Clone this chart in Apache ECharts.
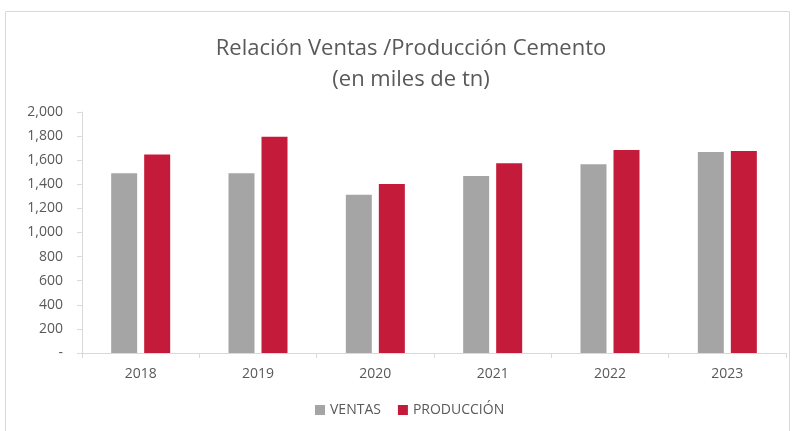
<!DOCTYPE html>
<html>
<head>
<meta charset="utf-8">
<script src="https://cdn.jsdelivr.net/npm/echarts@6/dist/echarts.min.js"></script>
<style>
    html, body { margin: 0; padding: 0; background: #fff; }
    #chart { width: 792px; height: 431px; }
</style>
</head>
<body>
<div id="chart"></div>
<script>
var years = ['2018', '2019', '2020', '2021', '2022', '2023'];
var ventas = [1491, 1491, 1314, 1469, 1566, 1668];
var produccion = [1647, 1795, 1402, 1574, 1685, 1676];
var seriesNames = ['VENTAS', 'PRODUCCIÓN'];

var fontFamily = '"Open Sans", "Noto Sans", sans-serif';
var textColor = '#595959';
var lineColor = '#d9d9d9';

var chart = echarts.init(document.getElementById('chart'));
var option = {
    color: ['#a5a5a5', '#c51b3b'],
    textStyle: { fontFamily: fontFamily },
    graphic: [{
        type: 'rect',
        silent: true,
        shape: { x: 5.5, y: 11.5, width: 784, height: 425 },
        style: { fill: 'none', stroke: lineColor, lineWidth: 1 }
    }],
    title: {
        text: 'Relación Ventas /Producción Cemento\n(en miles de tn)',
        left: 406,
        top: 28,
        textAlign: 'center',
        textStyle: {
            fontFamily: fontFamily,
            fontWeight: 'normal',
            fontSize: 22,
            lineHeight: 31,
            color: textColor
        }
    },
    legend: {
        bottom: 9,
        left: 310,
        itemWidth: 10,
        itemHeight: 10,
        itemGap: 17,
        icon: 'rect',
        textStyle: { color: textColor, fontSize: 14, fontFamily: fontFamily },
        data: seriesNames
    },
    grid: {
        left: 82,
        right: 6,
        top: 112,
        bottom: 78
    },
    xAxis: {
        type: 'category',
        data: years,
        axisLine: { lineStyle: { color: lineColor } },
        axisTick: { show: true, length: 5, lineStyle: { color: lineColor } },
        axisLabel: { color: textColor, fontSize: 14, margin: 14 }
    },
    yAxis: {
        type: 'value',
        min: 0,
        max: 2000,
        interval: 200,
        splitLine: { show: false },
        axisLine: { show: true, lineStyle: { color: lineColor } },
        axisTick: { show: true, length: 5, lineStyle: { color: lineColor } },
        axisLabel: {
            color: textColor,
            fontSize: 14,
            margin: 19,
            formatter: function (v) {
                return v === 0 ? '-' : v.toLocaleString('en-US');
            }
        }
    },
    series: [{
        name: seriesNames[0],
        type: 'bar',
        barWidth: 26,
        barGap: '27%',
        data: ventas
    }, {
        name: seriesNames[1],
        type: 'bar',
        barWidth: 26,
        data: produccion
    }]
};
chart.setOption(option);
</script>
</body>
</html>
